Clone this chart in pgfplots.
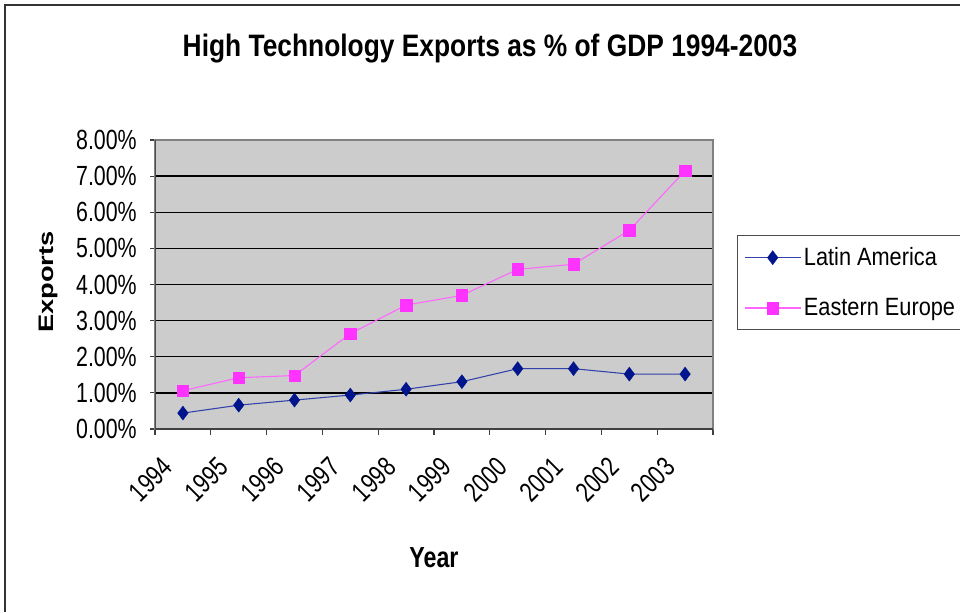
\documentclass[border=0pt]{standalone}
\usepackage{fontspec}
\setmainfont{Liberation Sans}
\newfontfamily\tickfont{Liberation Sans}[FakeStretch=0.77]
\newfontfamily\legfont{Liberation Sans}[FakeStretch=0.87]
\newfontfamily\titlefont{Liberation Sans Bold}[FakeStretch=0.85]
\newfontfamily\xlabfont{Liberation Sans Bold}[FakeStretch=0.8]
\newfontfamily\ylabfont{Liberation Sans Bold}[FakeStretch=1.3]
\usepackage{pgfplots}
\pgfplotsset{compat=1.18}
\definecolor{plotbg}{RGB}{204,204,204}
\definecolor{laMark}{RGB}{0,20,140}
\definecolor{laLine}{RGB}{50,65,170}
\definecolor{eeMark}{RGB}{255,51,255}
\definecolor{eeLine}{RGB}{255,102,255}
\begin{document}
\begin{tikzpicture}[x=0.75pt,y=0.75pt]
\path[use as bounding box] (0,0) rectangle (960,612);
\coordinate (axisSW) at (155,183);
\draw[line width=1.5pt, black!80] (5,0) -- (5,607) -- (960,607);
\node[font=\titlefont\fontsize{23.25}{26}\selectfont, anchor=base] at (490,555) {High Technology Exports as \% of GDP 1994-2003};
\node[font=\ylabfont\fontsize{15.75}{18}\selectfont, rotate=90, anchor=base] at (53,330) {Exports};
\node[font=\xlabfont\fontsize{21.75}{24}\selectfont, anchor=base] at (434,45) {Year};
\begin{axis}[
  at={(axisSW)}, anchor=south west,
  scale only axis, width=418.5pt, height=216.75pt,
  xmin=-0.5, xmax=9.5, ymin=0, ymax=8,
  axis background/.style={fill=plotbg},
  axis line style={draw=black!50, line width=0.9pt},
  tick align=outside,
  xtick pos=bottom, ytick pos=left,
  xtick={-0.4,0.6,1.6,2.6,3.6,4.6,5.6,6.6,7.6,8.6},
  xticklabels={1994,1995,1996,1997,1998,1999,2000,2001,2002,2003},
  major x tick style={draw=none},
  minor xtick={-0.5,0.5,1.5,2.5,3.5,4.5,5.5,6.5,7.5,8.5,9.5},
  minor x tick style={draw=black!75, line width=0.8pt},
  minor tick length=4.5pt,
  major tick length=3.75pt,
  ytick={0,1,2,3,4,5,6,7,8},
  yticklabels={0.00\%,1.00\%,2.00\%,3.00\%,4.00\%,5.00\%,6.00\%,7.00\%,8.00\%},
  major y tick style={draw=black!75, line width=0.8pt},
  ymajorgrids, major grid style={draw=black, line width=1pt},
  xticklabel style={rotate=45, anchor=north east, inner sep=0pt, font=\tickfont\fontsize{20.8}{23}\selectfont},
  xticklabel shift=16pt,
  yticklabel style={anchor=east, inner sep=0pt, font=\tickfont\fontsize{20.8}{23}\selectfont},
  yticklabel shift=9.75pt,
  legend style={at={(1.043,0.671)}, anchor=north west, draw=black!70, fill=white,
    line width=0.8pt, inner xsep=5pt, inner ysep=7pt, row sep=19pt,
    font=\legfont\fontsize{18.75}{21}\selectfont},
  legend cell align=left,
  legend image code/.code={\draw[mark repeat=2,mark phase=2,#1] plot coordinates {(0pt,0pt) (21pt,0pt) (42pt,0pt)};},
]
\addplot[draw=laLine, line width=0.8pt, mark=diamond*, mark size=5.25pt, mark options={draw=laMark, fill=laMark, line width=0.3pt}]
  coordinates {(0,0.44) (1,0.66) (2,0.80) (3,0.94) (4,1.10) (5,1.31) (6,1.67) (7,1.67) (8,1.52) (9,1.52)};
\addlegendentry{Latin America}
\addplot[draw=eeLine, line width=0.8pt, mark=square*, mark size=4.3pt, mark options={draw=eeMark, fill=eeMark, line width=0.3pt}]
  coordinates {(0,1.06) (1,1.42) (2,1.48) (3,2.64) (4,3.43) (5,3.70) (6,4.42) (7,4.56) (8,5.50) (9,7.15)};
\addlegendentry{Eastern Europe\hspace{12pt}}
\draw[black!75, line width=1pt] (rel axis cs:0,0) -- (rel axis cs:1,0);
\draw[black!70, line width=1pt] (rel axis cs:0,0) -- (rel axis cs:0,1);
\end{axis}
\end{tikzpicture}
\end{document}
